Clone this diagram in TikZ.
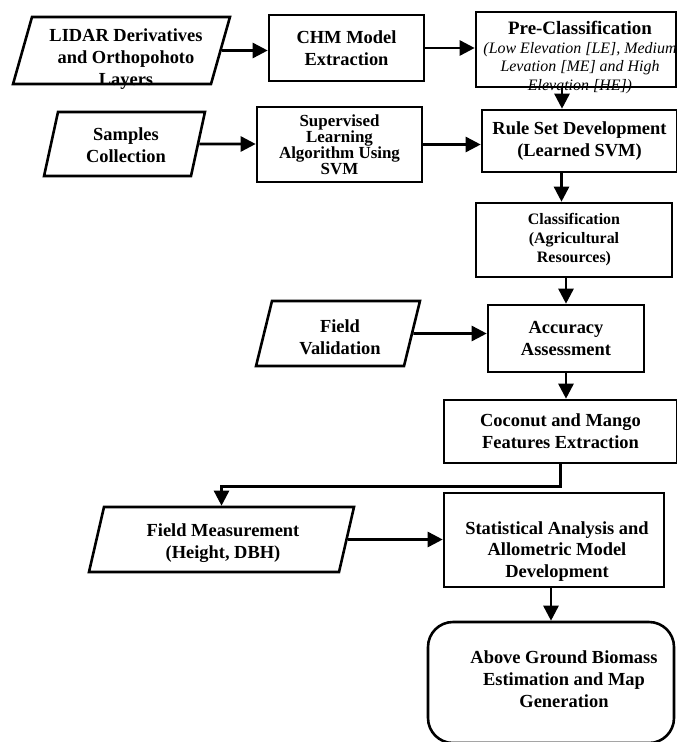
\documentclass[tikz,border=0pt]{standalone}
\usepackage{fontspec}
\setmainfont{Liberation Serif}
\usetikzlibrary{shapes.geometric,arrows.meta}

\begin{document}
\begin{tikzpicture}[x=1bp,y=-1bp,
	box/.style={draw,line width=2.6pt,inner sep=0pt,align=center},
	para/.style 2 args={draw,line width=2.6pt,inner sep=0pt,shape=trapezium,
		trapezium left angle=#1,trapezium right angle=#2,text depth=0pt},
	big/.style={font=\fontsize{18.5}{22}\selectfont\bfseries,align=center},
	small/.style={font=\fontsize{17}{16}\selectfont\bfseries,align=center},
	arr/.style={-{Triangle[length=15bp,width=15bp]},line width=2.6pt}]
	\useasboundingbox (0,0) rectangle (677,742);
	%\draw[help lines,step=50] (0,0) grid (677,742);

	% first row
	\node[para={74.2}{105.8},text width=179bp,text height=67bp] (lidar) at (121.5,50.5) {};
	\node[big] (lidarT) at (126,59) {LIDAR Derivatives\\and Orthopohoto\\Layers};
	\node[box,big,minimum width=155bp,minimum height=66bp] (chm) at (346.5,48) {CHM Model\\Extraction};
	\node[box,minimum width=200bp,minimum height=75bp] (pre) at (576,49.5) {};
	\node[align=center,font=\fontsize{16}{19}\selectfont\itshape] (preT) at (580,57.5)
		{{\fontsize{19}{19}\selectfont\bfseries\upshape Pre-Classification}\\(Low Elevation [LE], Medium\\Levation [ME] and High\\Elevation [HE])};
	\draw[arr] (lidar) -- (lidar -| chm.west);
	\draw[arr] (chm) -- (chm -| pre.west);

	% second row
	\node[para={77.7}{102.3},text width=133bp,text height=64bp] (samples) at (124.5,144) {};
	\node[big] (samplesT) at (126,145.5) {Samples\\Collection};
	\node[box,small,minimum width=165bp,minimum height=75bp] (sup) at (339.5,144.5) {Supervised\\Learning\\Algorithm Using\\SVM};
	\node[box,big,minimum width=195bp,minimum height=62bp] (rule) at (579.5,141) {Rule Set Development\\(Learned SVM)};
	\draw[arr] ([xshift=-14bp]pre.south) -- ([xshift=-14bp]pre.south |- rule.north);
	\draw[arr] (samples) -- (samples -| sup.west);
	\draw[arr] (sup) -- (sup -| rule.west);

	% classification and accuracy
	\node[box,font=\fontsize{16}{19}\selectfont\bfseries,minimum width=196bp,minimum height=74bp] (cls) at (574,240) {Classification\\(Agricultural\\Resources)};
	\node[box,big,minimum width=156bp,minimum height=67bp] (acc) at (566,338.5) {Accuracy\\Assessment};
	\node[para={76.2}{103.8},text width=132bp,text height=65bp] (fv) at (338,333.5) {};
	\node[big] (fvT) at (340,337) {Field\\Validation};
	\draw[arr] ([xshift=-18bp]rule.south) -- ([xshift=-18bp]rule.south |- cls.north);
	\draw[arr] (acc.north |- cls.south) -- (acc.north);
	\draw[arr] (fv) -- (fv -| acc.west);

	% features and model
	\node[box,big,minimum width=233bp,minimum height=63bp] (coco) at (560.5,431.5) {Coconut and Mango\\Features Extraction};
	\draw[arr] (acc.south) -- (acc.south |- coco.north);
	\node[para={77}{103},text width=235bp,text height=65bp] (fm) at (221.5,539.5) {};
	\node[big] (fmT) at (223,543.5) {Field Measurement\\(Height, DBH)};
	\node[box,minimum width=220bp,minimum height=94bp] (stat) at (554,540) {};
	\node[big] (statT) at (557,551.5) {Statistical Analysis and\\Allometric Model\\Development};
	\node[box,rounded corners=25bp,minimum width=246bp,minimum height=121bp] (above) at (551,682.5) {};
	\node[big] (aboveT) at (564,679.5) {Above Ground Biomass\\Estimation and Map\\Generation};
	\draw[arr] (coco.south) -- ++(0,22) -| (fm.north);
	\draw[arr] (fm) -- (fm -| stat.west);
	\draw[arr] (above.north |- stat.south) -- (above.north);
\end{tikzpicture}
\end{document}
